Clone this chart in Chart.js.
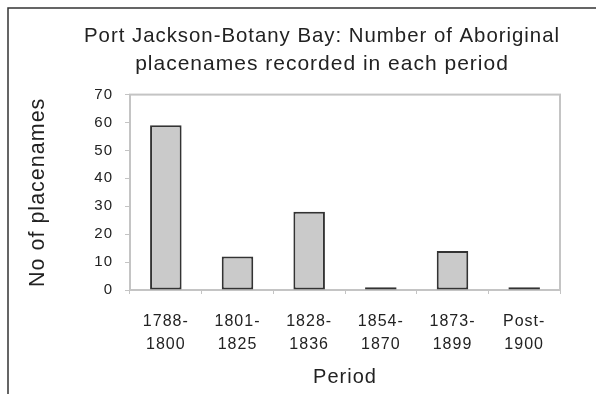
<!DOCTYPE html>
<html>
<head>
<meta charset="utf-8">
<script src="https://cdn.jsdelivr.net/npm/chart.js@4.4.0/dist/chart.umd.min.js"></script>
<style>
  html, body { margin: 0; padding: 0; background: #fff; }
  #wrap { position: relative; width: 596px; height: 394px; }
</style>
</head>
<body>
<div id="wrap"><canvas id="chart" width="596" height="394"></canvas></div>
<script>
// data
const periods = [
  ["1788-", "1800"],
  ["1801-", "1825"],
  ["1828-", "1836"],
  ["1854-", "1870"],
  ["1873-", "1899"],
  ["Post-", "1900"],
];
const placenameCounts = [59, 12, 28, 1, 14, 1];
const yTicks = [0, 10, 20, 30, 40, 50, 60, 70];

const textColor = "#222";
const fontFamily = "'Liberation Sans', Arial, sans-serif";

// the original text is set a little loose
const spacing = {
  id: "spacing",
  beforeUpdate(chart) { chart.ctx.letterSpacing = "1px"; },
  beforeDraw(chart) { chart.ctx.letterSpacing = "1px"; },
};

// grey box round the plot and the dark frame of the figure
const frame = {
  id: "frame",
  beforeDatasetsDraw(chart) {
    const { ctx, chartArea: a } = chart;
    ctx.save();
    ctx.strokeStyle = "#c4c4c4";
    ctx.lineWidth = 2;
    ctx.strokeRect(a.left, a.top, a.right - a.left, a.bottom - a.top);
    ctx.restore();
  },
  afterDraw(chart) {
    const ctx = chart.ctx;
    ctx.save();
    ctx.strokeStyle = "#333";
    ctx.lineWidth = 1.5;
    ctx.beginPath();
    ctx.moveTo(8, chart.height);
    ctx.lineTo(8, 8);
    ctx.lineTo(chart.width, 8);
    ctx.stroke();
    ctx.restore();
  },
};

new Chart(document.getElementById("chart"), {
  type: "bar",
  data: {
    labels: periods,
    datasets: [
      {
        data: placenameCounts,
        backgroundColor: "#cacaca",
        borderColor: "#333",
        borderWidth: 2,
        borderSkipped: false,
        barPercentage: 0.44,
        categoryPercentage: 1,
      },
    ],
  },
  options: {
    responsive: false,
    animation: false,
    // left padding puts the main title where the original has it
    layout: { padding: { left: 84, right: 36, top: 0, bottom: 0 } },
    plugins: {
      legend: { display: false },
      tooltip: { enabled: false },
      title: {
        display: true,
        text: [
          "Port Jackson-Botany Bay: Number of Aboriginal",
          "placenames recorded in each period",
        ],
        color: textColor,
        font: { family: fontFamily, size: 21, weight: "normal", lineHeight: 1.3 },
        padding: { top: 23, bottom: 17 },
      },
    },
    scales: {
      x: {
        grid: { drawOnChartArea: false, drawTicks: true, tickLength: 4, color: "#c4c4c4" },
        border: { color: "#c4c4c4", width: 2 },
        ticks: {
          color: textColor,
          font: { family: fontFamily, size: 16, lineHeight: 1.44 },
          padding: 16,
          maxRotation: 0,
          autoSkip: false,
        },
        title: {
          display: true,
          text: "Period",
          color: textColor,
          font: { family: fontFamily, size: 20, lineHeight: 1.2 },
          padding: { top: 0, bottom: 5 },
        },
        afterFit(scale) { scale.height = 104; },
      },
      y: {
        min: 0,
        max: 70,
        afterBuildTicks(scale) { scale.ticks = yTicks.map((v) => ({ value: v })); },
        grid: { drawOnChartArea: false, drawTicks: true, tickLength: 5, color: "#c4c4c4" },
        border: { color: "#c4c4c4", width: 2 },
        ticks: {
          color: textColor,
          font: { family: fontFamily, size: 15 },
          padding: 12,
        },
        title: {
          display: true,
          text: "No of placenames",
          color: textColor,
          font: { family: fontFamily, size: 21.5, lineHeight: 1.2 },
          // pulls the rotated title back out to the left edge
          padding: { top: -59, bottom: 0 },
        },
        afterFit(scale) { scale.width = 46; },
      },
    },
  },
  plugins: [spacing, frame],
});
</script>
</body>
</html>
